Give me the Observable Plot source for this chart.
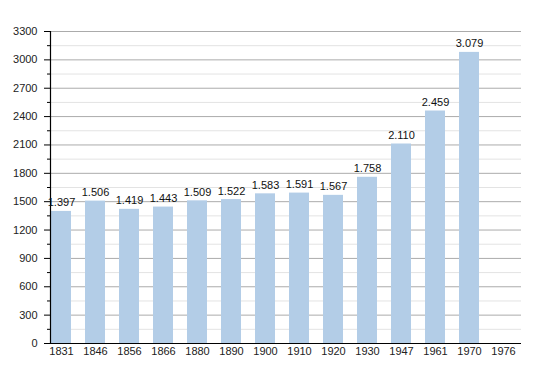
<!DOCTYPE html>
<html>
<head>
<meta charset="utf-8">
<script src="https://cdn.jsdelivr.net/npm/d3@7"></script>
<script src="https://cdn.jsdelivr.net/npm/@observablehq/plot@0.6"></script>
<style>
  html, body { margin: 0; padding: 0; background: #fff; }
</style>
</head>
<body>
<div id="chart"></div>
<script>
const years = ["1831","1846","1856","1866","1880","1890","1900","1910","1920","1930","1947","1961","1970","1976"];
const population = [1397,1506,1419,1443,1509,1522,1583,1591,1567,1758,2110,2459,3079,null];
const majorTicks = [0,300,600,900,1200,1500,1800,2100,2400,2700,3000,3300];
const minorTicks = [150,450,750,1050,1350,1650,1950,2250,2550,2850,3150];

const data = years.map((year, i) => ({year, pop: population[i]})).filter(d => d.pop != null);
const fmt = v => d3.format(",")(v).replace(/,/g, ".");

const chart = Plot.plot({
  width: 550,
  height: 373,
  marginLeft: 50,
  marginRight: 29,
  marginTop: 31,
  marginBottom: 30,
  style: {fontFamily: "'Liberation Sans', Arial, sans-serif", fontSize: "11px", color: "#222", background: "#fff"},
  x: {type: "band", domain: years, range: [51, 518.2], paddingInner: 0.419, paddingOuter: 0, align: 0, axis: null},
  y: {domain: [0, 3300], axis: null},
  marks: [
    Plot.ruleY(minorTicks, {stroke: "#e3e3e3", strokeWidth: 1}),
    Plot.ruleY(majorTicks.filter(t => t > 0), {stroke: "#ababab", strokeWidth: 1}),
    Plot.barY(data, {x: "year", y: "pop", fill: "#b3cde7"}),
    Plot.ruleY([0], {stroke: "#000", strokeWidth: 1.2}),
    Plot.frame({anchor: "left", stroke: "#000", strokeWidth: 1.2}),
    Plot.axisY(majorTicks, {tickSize: 6, tickPadding: 7, tickFormat: d => String(d), stroke: "#000", fill: "#222", label: null}),
    Plot.axisY(minorTicks, {tickSize: 3, tickFormat: () => "", stroke: "#000", label: null}),
    Plot.axisX({tickSize: 0, tickPadding: 4, fill: "#222", label: null}),
    Plot.text(data, {x: "year", y: "pop", text: d => fmt(d.pop), dy: -5, lineAnchor: "bottom", fill: "#111", fontSize: 11})
  ]
});
document.getElementById("chart").appendChild(chart);
</script>
</body>
</html>
